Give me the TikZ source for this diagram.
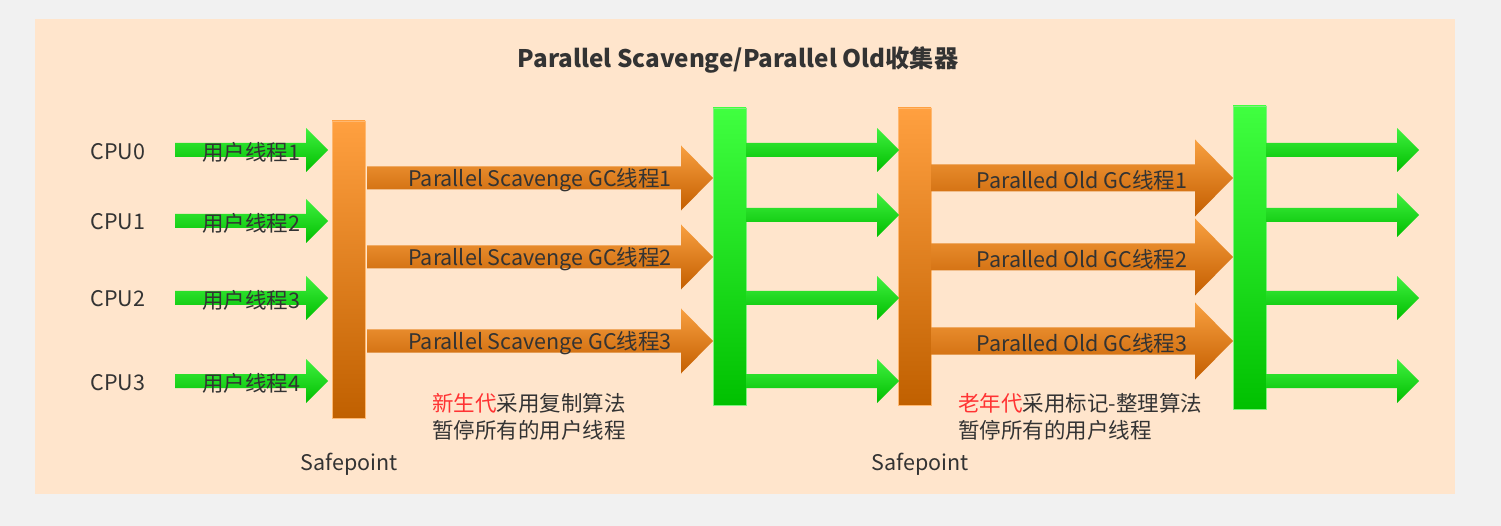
\documentclass[tikz,border=0pt]{standalone}
\usepackage{fontspec}
\setmainfont{Noto Sans CJK SC}
\begin{document}
\begin{tikzpicture}[x=1pt,y=-1pt,
  txt/.style={text=txtc,inner sep=0pt,font=\fontsize{21.5}{26}\selectfont},
  obar/.style={top color=obtop,bottom color=obbot,draw=obline,line width=0.8pt,minimum width=33pt,inner sep=0pt},
  gbar/.style={top color=gbtop,bottom color=gbbot,draw=gbline,line width=0.8pt,minimum width=33pt,inner sep=0pt}]
\definecolor{txtc}{HTML}{333333}
\definecolor{obtop}{HTML}{FFA040}
\definecolor{obbot}{HTML}{C06000}
\definecolor{obline}{HTML}{FFB870}
\definecolor{gbtop}{HTML}{40FF40}
\definecolor{gbbot}{HTML}{00C000}
\definecolor{gbline}{HTML}{80F080}
\definecolor{gatop}{HTML}{40F040}
\definecolor{gabot}{HTML}{00BE00}
\definecolor{oatop}{HTML}{F8A040}
\definecolor{oabot}{HTML}{C45E00}
\definecolor{redc}{HTML}{FF3333}
\newcommand\fatarr[8]{%
  \shade[top color=#7,bottom color=#8] ({#1},{#3-#4}) -- ({#2-#6},{#3-#4}) -- ({#2-#6},{#3-#5}) -- ({#2},{#3}) -- ({#2-#6},{#3+#5}) -- ({#2-#6},{#3+#4}) -- ({#1},{#3+#4}) -- cycle;}
% background
\fill[fill={rgb,255:red,241;green,241;blue,241}] (0,0) rectangle (1501,526);
\fill[fill={rgb,255:red,255;green,229;blue,204}] (35,19) rectangle (1455,494);
\useasboundingbox (0,0) rectangle (1501,526);
% title
\node[txt,font=\bfseries\fontsize{24.2}{28}\selectfont] (title) at (738,60) {Parallel Scavenge/Parallel Old收集器};
% bars
\node[obar,minimum height=297pt] (sp1) at (348.5,269.5) {};
\node[gbar,minimum height=297pt] (g1) at (729.5,256.5) {};
\node[obar,minimum height=297pt] (sp2) at (914.5,256.5) {};
\node[gbar,minimum height=303pt] (g2) at (1249.5,257.5) {};
% user thread arrows
\foreach \y in {150,221,298,381}{\fatarr{175}{328}{\y}{7}{22}{22}{gatop}{gabot}}
% PS GC arrows
\foreach \y in {178,257,341}{\fatarr{367}{713}{\y}{11.5}{32.5}{32}{oatop}{oabot}}
% middle green arrows
\foreach \y in {150,215,298,381}{\fatarr{746}{899}{\y}{7}{22}{22}{gatop}{gabot}}
% Old GC arrows
\foreach \y in {178,257,341}{\fatarr{931}{1233}{\y}{13.5}{38.5}{38}{oatop}{oabot}}
% right green arrows
\foreach \y in {150,215,298,381}{\fatarr{1266}{1419}{\y}{7}{22}{22}{gatop}{gabot}}
% CPU labels
\node[txt] (c0) at (118,152) {CPU0};
\node[txt] (c1) at (118,222) {CPU1};
\node[txt] (c2) at (118,299) {CPU2};
\node[txt] (c3) at (118,383) {CPU3};
% user thread labels
\node[txt] (u1) at (251,152) {用户线程1};
\node[txt] (u2) at (251,223) {用户线程2};
\node[txt] (u3) at (251,300) {用户线程3};
\node[txt] (u4) at (251,383) {用户线程4};
% GC labels
\node[txt] (p1) at (540,180) {Parallel Scavenge GC线程1};
\node[txt] (p2) at (540,259) {Parallel Scavenge GC线程2};
\node[txt] (p3) at (540,343) {Parallel Scavenge GC线程3};
\node[txt] (o1) at (1082,180) {Paralled Old GC线程1};
\node[txt] (o2) at (1082,259) {Paralled Old GC线程2};
\node[txt] (o3) at (1082,343) {Paralled Old GC线程3};
% notes
\node[txt,anchor=west] (n1a) at (432,403) {\textcolor{redc}{新生代}采用复制算法};
\node[txt,anchor=west] (n1b) at (432,430) {暂停所有的用户线程};
\node[txt,anchor=west] (n2a) at (958,403) {\textcolor{redc}{老年代}采用标记-整理算法};
\node[txt,anchor=west] (n2b) at (958,430) {暂停所有的用户线程};
% safepoint labels
\node[txt] (s1) at (349,464) {Safepoint};
\node[txt] (s2) at (920,464) {Safepoint};
\end{tikzpicture}
\end{document}
